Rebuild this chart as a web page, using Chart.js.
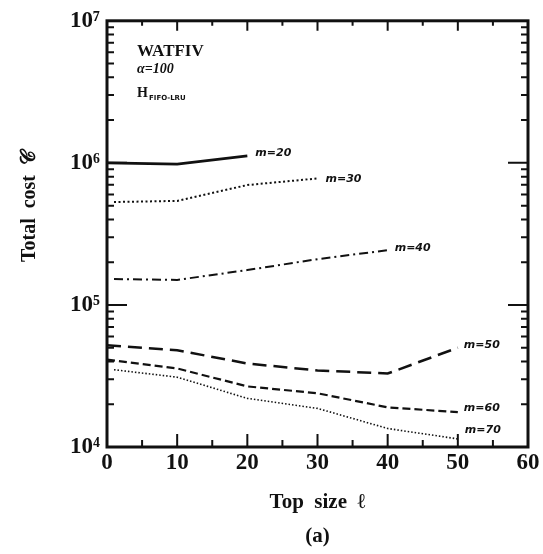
<!DOCTYPE html>
<html>
<head>
<meta charset="utf-8">
<script src="https://cdn.jsdelivr.net/npm/chart.js@4/dist/chart.umd.min.js"></script>
<style>
    html, body { margin: 0; padding: 0; background: #fff; }
    canvas { display: block; }
</style>
</head>
<body>
<canvas id="costChart" width="543" height="554"></canvas>
<script>
// Tamaño del top (eje x) y costo total por cada m
const topSize = [0, 10, 20, 30, 40, 50];
const topSizeFrom1 = [1, 10, 20, 30, 40, 50];

const costM20 = [1.0e6, 0.98e6, 1.12e6];
const costM30 = [5.3e5, 5.4e5, 6.98e5, 7.77e5];
const costM40 = [1.52e5, 1.5e5, 1.76e5, 2.1e5, 2.43e5];
const costM50 = [5.2e4, 4.8e4, 3.87e4, 3.46e4, 3.29e4, 5.0e4];
const costM60 = [4.12e4, 3.57e4, 2.67e4, 2.39e4, 1.9e4, 1.76e4];
const costM70 = [3.5e4, 3.1e4, 2.2e4, 1.87e4, 1.35e4, 1.14e4];

const seriesNames = ['m=20', 'm=30', 'm=40', 'm=50', 'm=60', 'm=70'];

// Etiquetas de los ejes
const xTicks = [0, 10, 20, 30, 40, 50, 60];
const yTickValues = [1e4, 1e5, 1e6, 1e7];
const yTickLabels = ['10⁴', '10⁵', '10⁶', '10⁷'];

const INK = '#111';
const SERIF = '"Liberation Serif", "DejaVu Serif", serif';

function toPoints(xs, ys) {
    return ys.map((y, i) => ({ x: xs[i], y: y }));
}

// Marco grueso con marcas hacia adentro en los cuatro lados
const framePlugin = {
    id: 'frame',
    afterDatasetsDraw(chart) {
        const { ctx, chartArea: a, scales } = chart;
        const xs = scales.x, ys = scales.y;
        ctx.save();
        ctx.strokeStyle = INK;
        ctx.lineWidth = 3;
        ctx.strokeRect(a.left, a.top, a.right - a.left, a.bottom - a.top);

        ctx.lineWidth = 2;
        ctx.beginPath();
        for (let v = 0; v <= 60; v += 5) {
            const px = xs.getPixelForValue(v);
            const major = v % 10 === 0;
            ctx.moveTo(px, a.bottom);
            ctx.lineTo(px, a.bottom - (major ? 13 : 7));
            ctx.moveTo(px, a.top);
            ctx.lineTo(px, a.top + (major ? 10 : 5));
        }
        for (let d = 4; d <= 6; d++) {
            for (let k = 1; k <= 9; k++) {
                const py = ys.getPixelForValue(k * Math.pow(10, d));
                const len = k === 1 ? 20 : 7;
                ctx.moveTo(a.left, py);
                ctx.lineTo(a.left + len, py);
                ctx.moveTo(a.right, py);
                ctx.lineTo(a.right - len, py);
            }
        }
        ctx.stroke();
        ctx.restore();
    }
};

// Rótulos m=.. al final de cada curva y textos del recuadro
const labelsPlugin = {
    id: 'curveLabels',
    afterDraw(chart) {
        const { ctx } = chart;
        const offsets = [[8, -3], [8, 1], [7, -2], [6, -3], [6, -4], [7, -9]];
        ctx.save();
        ctx.fillStyle = INK;
        ctx.font = 'italic bold 11px "DejaVu Sans", sans-serif';
        ctx.textBaseline = 'middle';
        chart.data.datasets.forEach((ds, i) => {
            const pts = chart.getDatasetMeta(i).data;
            const last = pts[pts.length - 1];
            ctx.fillText(seriesNames[i], last.x + offsets[i][0], last.y + offsets[i][1]);
        });

        ctx.textBaseline = 'alphabetic';
        ctx.font = 'bold 17px ' + SERIF;
        ctx.fillText('WATFIV', 137, 56);
        ctx.font = 'italic bold 14px ' + SERIF;
        ctx.fillText('α=100', 137, 73);
        ctx.font = 'bold 14px ' + SERIF;
        ctx.fillText('H', 137, 97);
        ctx.font = 'bold 7px "DejaVu Sans", sans-serif';
        ctx.fillText('FIFO-LRU', 149, 100);

        // título del eje y
        ctx.translate(30, 206);
        ctx.rotate(-Math.PI / 2);
        ctx.textAlign = 'center';
        ctx.textBaseline = 'middle';
        ctx.font = 'bold 20px ' + SERIF;
        ctx.fillText('Total  cost  𝒞', 0, 0);
        ctx.restore();
    }
};

new Chart(document.getElementById('costChart').getContext('2d'), {
    type: 'line',
    data: {
        datasets: [
            { data: toPoints(topSize, costM20), borderWidth: 2.6 },
            { data: toPoints(topSizeFrom1, costM30), borderWidth: 2, borderDash: [2, 2.5] },
            { data: toPoints(topSizeFrom1, costM40), borderWidth: 2, borderDash: [9, 4, 2, 4] },
            { data: toPoints(topSize, costM50), borderWidth: 2.5, borderDash: [14, 7] },
            { data: toPoints(topSize, costM60), borderWidth: 2.2, borderDash: [8, 4] },
            { data: toPoints(topSizeFrom1, costM70), borderWidth: 1.6, borderDash: [1.5, 2] }
        ].map((ds, i) => Object.assign(ds, {
            label: seriesNames[i],
            borderColor: INK,
            pointRadius: 0,
            tension: 0,
            fill: false
        }))
    },
    options: {
        responsive: false,
        animation: false,
        layout: { padding: { top: 18, right: 15, left: 0, bottom: 0 } },
        plugins: {
            legend: { display: false },
            tooltip: { enabled: false }
        },
        scales: {
            x: {
                type: 'linear',
                min: 0,
                max: 60,
                afterBuildTicks: scale => {
                    scale.ticks = xTicks.map(v => ({ value: v }));
                },
                afterFit: scale => { scale.height = 107; },
                grid: { display: false, drawTicks: false },
                border: { display: false },
                ticks: {
                    color: INK,
                    padding: 2,
                    maxRotation: 0,
                    font: { family: SERIF, size: 23, weight: 'bold' }
                },
                title: {
                    display: true,
                    text: ['Top  size  ℓ', '(a)'],
                    color: INK,
                    padding: 0,
                    font: { family: SERIF, size: 21, weight: 'bold', lineHeight: 1.62 }
                }
            },
            y: {
                type: 'logarithmic',
                min: 1e4,
                max: 1e7,
                afterBuildTicks: scale => {
                    scale.ticks = yTickValues.map(v => ({ value: v, major: true }));
                },
                afterFit: scale => { scale.width = 107; },
                grid: { display: false, drawTicks: false },
                border: { display: false },
                ticks: {
                    color: INK,
                    padding: 7,
                    callback: value => yTickLabels[yTickValues.indexOf(value)],
                    font: { family: SERIF, size: 23, weight: 'bold' }
                }
            }
        }
    },
    plugins: [framePlugin, labelsPlugin]
});
</script>
</body>
</html>
